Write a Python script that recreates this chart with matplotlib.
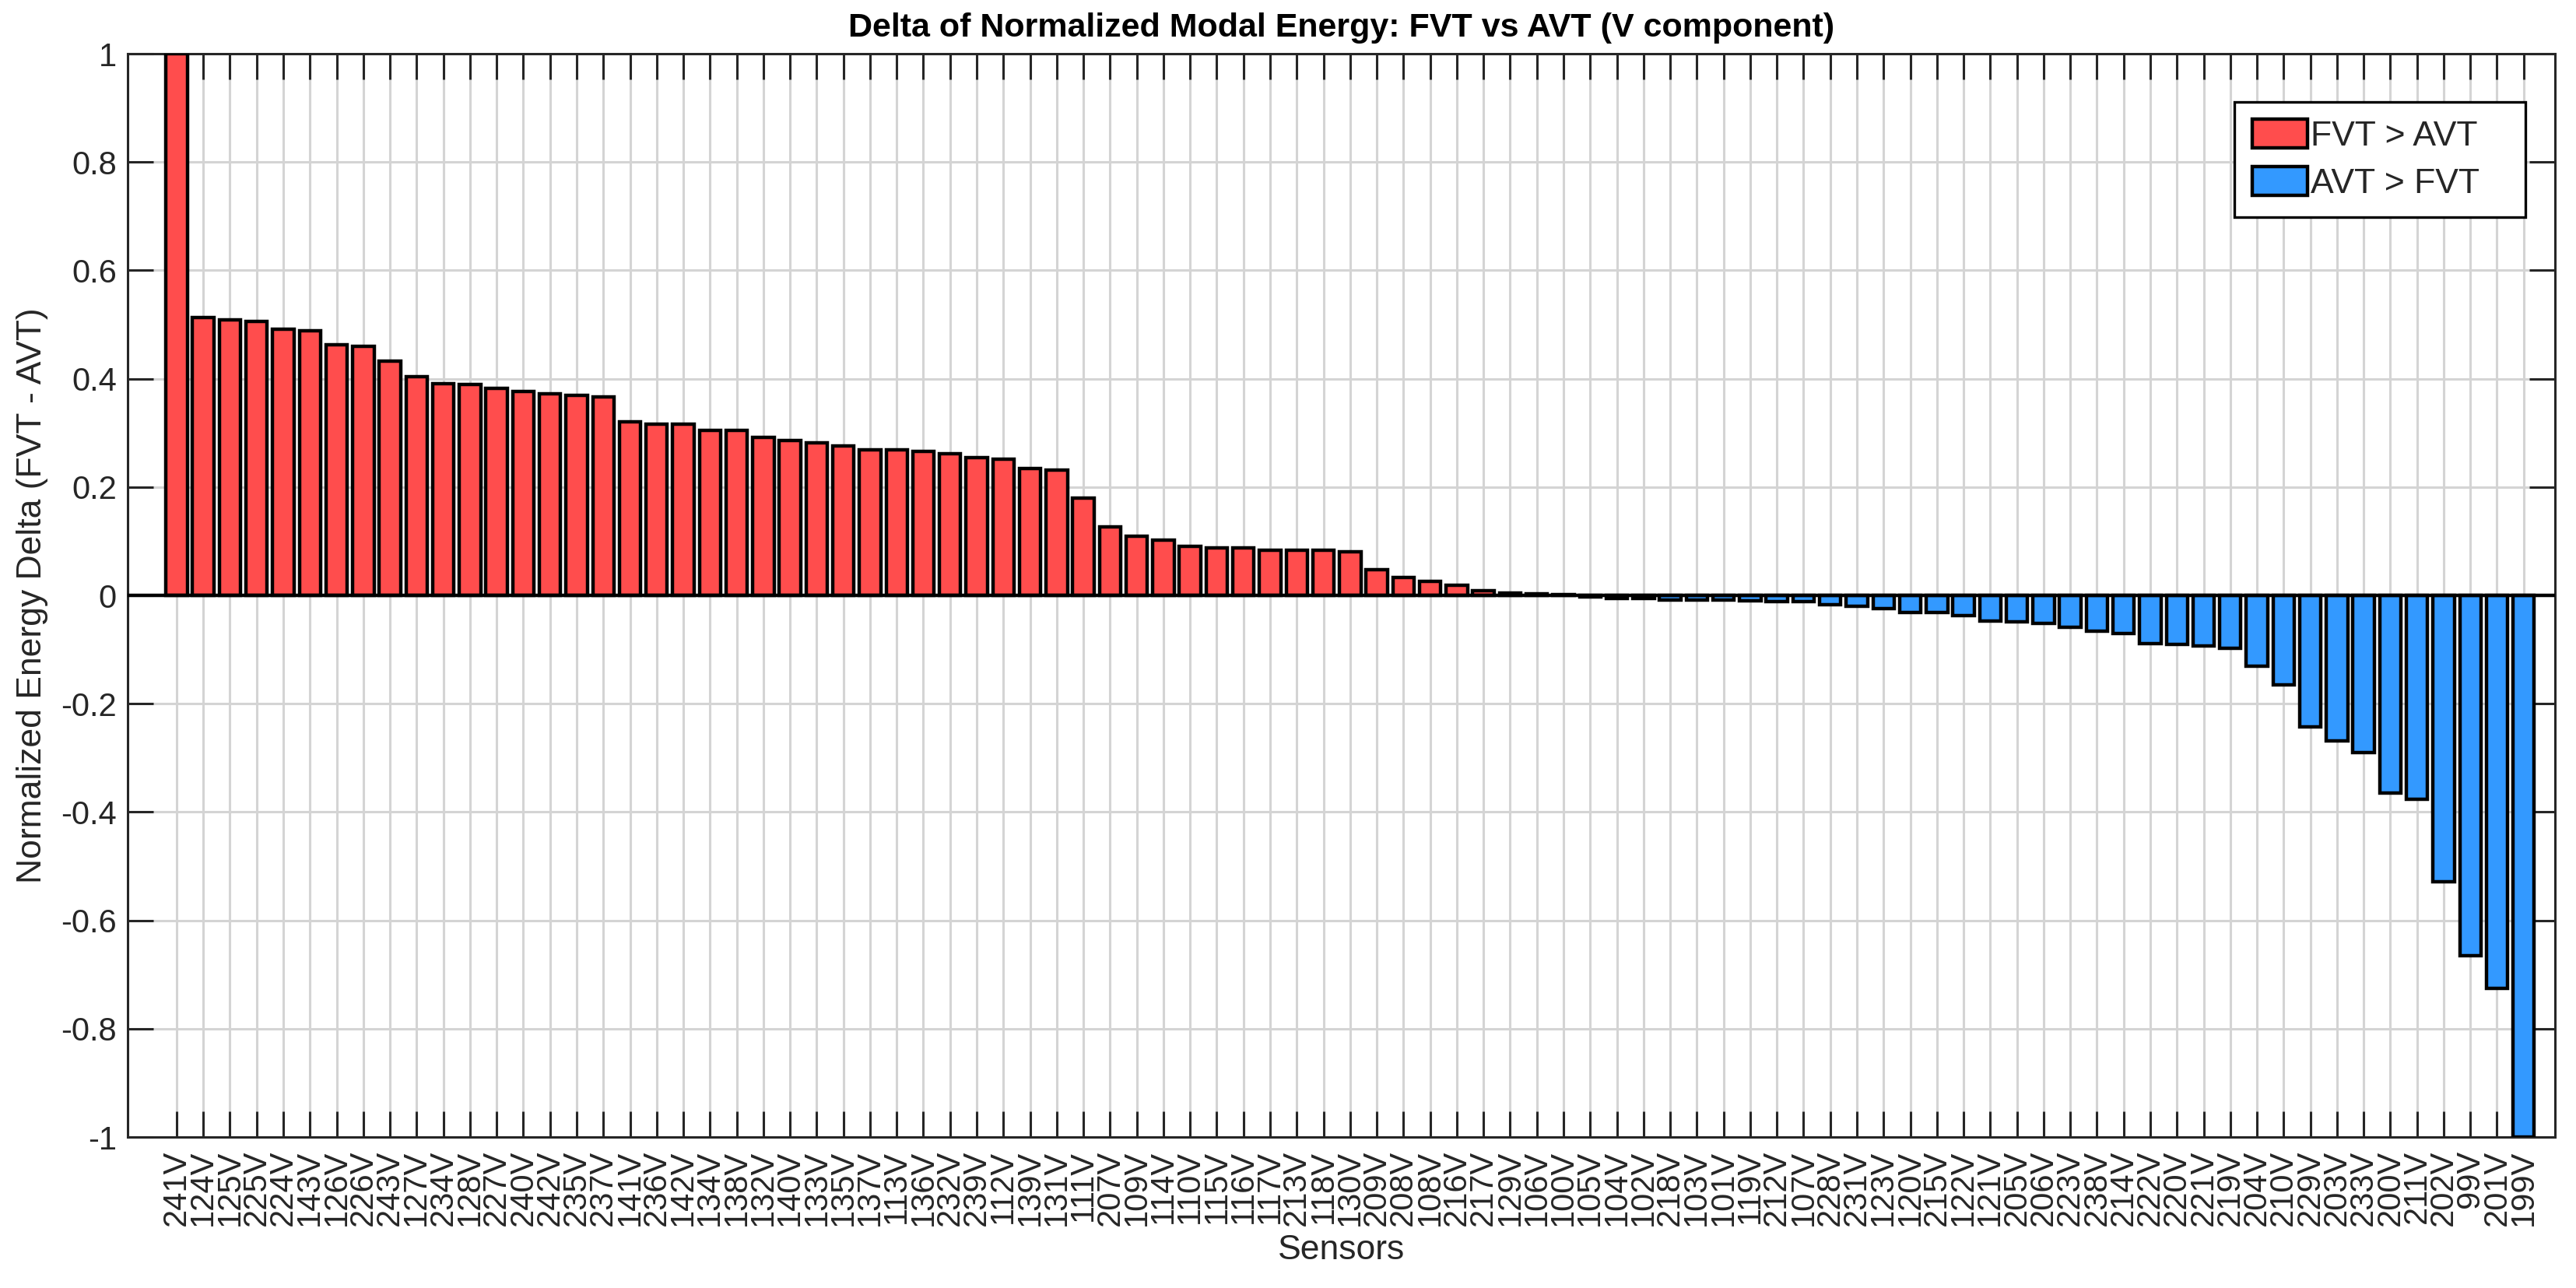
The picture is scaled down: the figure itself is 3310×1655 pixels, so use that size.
import numpy as np
import matplotlib
matplotlib.use("Agg")
import matplotlib.pyplot as plt
from matplotlib.patches import Patch

plt.rcParams['font.family'] = ['Liberation Sans', 'DejaVu Sans']

# sensors sorted by delta (FVT - AVT)
sensors = ['241V', '124V', '125V', '225V', '224V', '143V', '126V', '226V', '243V', '127V',
           '234V', '128V', '227V', '240V', '242V', '235V', '237V', '141V', '236V', '142V',
           '134V', '138V', '132V', '140V', '133V', '135V', '137V', '113V', '136V', '232V',
           '239V', '112V', '139V', '131V', '111V', '207V', '109V', '114V', '110V', '115V',
           '116V', '117V', '213V', '118V', '130V', '209V', '208V', '108V', '216V', '217V',
           '129V', '106V', '100V', '105V', '104V', '102V', '218V', '103V', '101V', '119V',
           '212V', '107V', '228V', '231V', '123V', '120V', '215V', '122V', '121V', '205V',
           '206V', '223V', '238V', '214V', '222V', '220V', '221V', '219V', '204V', '210V',
           '229V', '203V', '233V', '200V', '211V', '202V', '99V', '201V', '199V']

delta = [1.000, 0.513, 0.509, 0.506, 0.492, 0.489, 0.462, 0.460, 0.433, 0.404,
         0.391, 0.389, 0.382, 0.377, 0.372, 0.369, 0.367, 0.321, 0.316, 0.316,
         0.304, 0.304, 0.291, 0.286, 0.281, 0.276, 0.268, 0.268, 0.266, 0.261,
         0.254, 0.251, 0.234, 0.232, 0.180, 0.126, 0.109, 0.102, 0.090, 0.087,
         0.087, 0.083, 0.083, 0.083, 0.080, 0.048, 0.033, 0.026, 0.019, 0.008,
         0.005, 0.003, 0.001, -0.003, -0.005, -0.005, -0.008, -0.008, -0.008, -0.010,
         -0.012, -0.012, -0.017, -0.020, -0.024, -0.032, -0.032, -0.037, -0.047, -0.049,
         -0.052, -0.059, -0.066, -0.071, -0.089, -0.091, -0.094, -0.098, -0.131, -0.165,
         -0.243, -0.268, -0.290, -0.365, -0.377, -0.528, -0.665, -0.725, -1.000]

yticks = [-1, -0.8, -0.6, -0.4, -0.2, 0, 0.2, 0.4, 0.6, 0.8, 1]
ytick_labels = ['-1', '-0.8', '-0.6', '-0.4', '-0.2', '0', '0.2', '0.4', '0.6', '0.8', '1']

red = '#ff4d4d'
blue = '#3399ff'
dark = '#262626'

delta = np.array(delta)
x = np.arange(len(sensors))
colors = [red if d > 0 else blue for d in delta]

fig = plt.figure(figsize=(16.55, 8.275), dpi=200)
ax = fig.add_axes([0.0495, 0.1172, 0.9423, 0.8411])

ax.bar(x, delta, width=0.8, color=colors, edgecolor='black', linewidth=1.6, zorder=3)
ax.axhline(0, color='black', lw=1.6, zorder=4)

ax.set_xlim(-1.84, len(sensors) - 1 + 1.17)
ax.set_ylim(-1, 1)
ax.set_xticks(x)
ax.set_xticklabels(sensors, rotation=90, fontsize=15, color=dark)
ax.set_yticks(yticks)
ax.set_yticklabels(ytick_labels, fontsize=15, color=dark)

ax.tick_params(axis='both', direction='in', length=12, width=1.1, color=dark,
               top=True, right=True)
ax.tick_params(axis='x', pad=6)
ax.tick_params(axis='y', pad=5)
for s in ax.spines.values():
    s.set_linewidth(1.1)
    s.set_color(dark)

ax.set_axisbelow(True)
ax.grid(True, color='#d4d4d4', lw=1.1)

ax.set_title('Delta of Normalized Modal Energy: FVT vs AVT (V component)',
             fontsize=15.5, fontweight='bold', pad=8)
ax.set_xlabel('Sensors', fontsize=16, color=dark, labelpad=4)
ax.set_ylabel('Normalized Energy Delta (FVT - AVT)', fontsize=16, color=dark, labelpad=6)

handles = [Patch(facecolor=red, edgecolor='black', linewidth=1.6, label='FVT > AVT   '),
           Patch(facecolor=blue, edgecolor='black', linewidth=1.6, label='AVT > FVT   ')]
leg = ax.legend(handles=handles, loc='upper right', bbox_to_anchor=(0.9878, 0.9555),
                borderaxespad=0, fontsize=16, fancybox=False, framealpha=1,
                edgecolor='black', handlelength=1.6, handleheight=0.9,
                handletextpad=0.1, borderpad=0.5, labelspacing=0.4)
leg.get_frame().set_linewidth(1.2)
for t in leg.get_texts():
    t.set_color(dark)

fig.savefig('out.png', dpi=200)
